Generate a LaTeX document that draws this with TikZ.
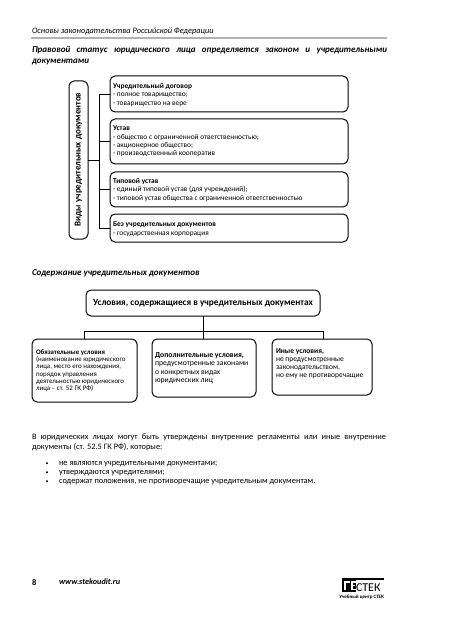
\documentclass[tikz,border=0pt]{standalone}
\usepackage{fontspec}
\setmainfont{Carlito}
\begin{document}
\begin{tikzpicture}[x=1pt,y=-1pt,
  every node/.style={inner sep=0pt,outer sep=0pt,font=\fontsize{8.35}{9}\selectfont},
  infobox/.style={draw=black,line width=1pt,rounded corners=5pt,fill=white},
  lnk/.style={draw=black,line width=0.9pt},
  txt/.style={anchor=base west},
  boxtxt/.style={anchor=north west,align=left,font=\fontsize{7.4}{8.4}\selectfont},
  headtxt/.style={anchor=base west,font=\fontsize{9}{10}\selectfont\bfseries\itshape},
]
\useasboundingbox (0,0) rectangle (450,620);
\fill[white] (0,0) rectangle (450,620);
% header
\node[txt,font=\fontsize{8.3}{9}\selectfont\itshape] (hd) at (32,33.5) {Основы законодательства Российской Федерации};
\draw[line width=1.2pt,black!30] (31,38) -- (387,38);
\node[headtxt] (t1) at (32,53) {\makebox[355pt][s]{Правовой статус юридического лица определяется законом и учредительными}};
\node[headtxt] (t2) at (32,64) {документами};
% first diagram
\node[infobox,anchor=north west,minimum width=19pt,minimum height=158pt] (lb) at (69,81) {};
\node[rotate=90,font=\fontsize{9}{10}\selectfont\bfseries] (vd) at (78.5,159.5) {Виды учредительных документов};
\node[infobox,anchor=north west,minimum width=238pt,minimum height=36pt] (b1) at (110,76) {};
\node[infobox,anchor=north west,minimum width=238pt,minimum height=45pt] (b2) at (110,119) {};
\node[infobox,anchor=north west,minimum width=238pt,minimum height=35pt] (b3) at (110,172) {};
\node[infobox,anchor=north west,minimum width=238pt,minimum height=28pt] (b4) at (110,214) {};
\coordinate (sp) at (99,160);
\draw[lnk] (lb.east) -- (sp);
\draw[lnk] (b1.west) -- (sp |- b1.west) -- (sp |- b4.west) -- (b4.west);
\draw[lnk] (sp |- b2.west) -- (b2.west);
\draw[lnk] (sp |- b3.west) -- (b3.west);
\node[boxtxt] (n1) at (113,83.5) {\textbf{Учредительный договор}\\- полное товарищество;\\- товарищество на вере};
\node[boxtxt] (n2) at (113,126) {\textbf{Устав}\\- общество с ограниченной ответственностью;\\- акционерное общество;\\- производственный кооператив};
\node[boxtxt] (n3) at (113,178.5) {\textbf{Типовой устав}\\- единый типовой устав (для учреждений);\\- типовой устав общества с ограниченной ответственностью};
\node[boxtxt] (n4) at (113,222) {\textbf{Без учредительных документов}\\- государственная корпорация};
% second heading
\node[headtxt] (h2) at (32,275) {Содержание учредительных документов};
% second diagram
\node[infobox,minimum width=234pt,minimum height=26pt,font=\fontsize{9.3}{10}\selectfont\bfseries] (top) at (203,303) {Условия, содержащиеся в учредительных документах};
\node[infobox,anchor=north west,minimum width=105pt,minimum height=63pt] (A) at (32,339) {};
\node[infobox,anchor=north west,minimum width=104pt,minimum height=58pt] (B) at (152,339) {};
\node[infobox,anchor=north west,minimum width=100pt,minimum height=56pt] (C) at (272,339) {};
\coordinate (bus) at (203,331);
\draw[lnk] (top.south) -- (bus);
\draw[lnk] (A.north -| 84,0) -- (84,331) -- (323,331) -- (C.north -| 323,0);
\draw[lnk] (bus) -- (B.north -| bus);
\node[boxtxt,font=\fontsize{6.9}{7.3}\selectfont] (a) at (36,349.5) {\textbf{Обязательные условия}\\(наименование юридического\\лица, место его нахождения,\\порядок управления\\деятельностью юридического\\лица – ст. 52 ГК РФ)};
\node[boxtxt,font=\fontsize{7.7}{8.3}\selectfont] (b) at (155,352.5) {\textbf{Дополнительные условия,}\\предусмотренные законами\\о конкретных видах\\юридических лиц};
\node[boxtxt,font=\fontsize{7.5}{8.2}\selectfont] (c) at (276,348.5) {\textbf{Иные условия,}\\не предусмотренные\\законодательством,\\но ему не противоречащие};
% paragraph
\node[txt] (p1) at (32,439.5) {\makebox[354pt][s]{В юридических лицах могут быть утверждены внутренние регламенты или иные внутренние}};
\node[txt] (p2) at (32,449) {документы (ст. 52.5 ГК РФ), которые:};
\foreach \yy/\tt in {465.5/{не являются учредительными документами;},474.5/{утверждаются учредителями;},483.5/{содержат положения, не противоречащие учредительным документам.}}{
  \fill (47,\yy-2.2) circle (1.1pt);
  \node[txt] at (59,\yy) {\tt};
}
% footer
\node[txt,font=\fontsize{8.5}{10}\selectfont\bfseries] (pg) at (32,585) {8};
\node[txt,font=\fontsize{8.2}{10}\selectfont\bfseries\itshape] (www) at (59,584.5) {www.stekoudit.ru};
% logo
\fill (342,578) rectangle (384,579.5);
\fill (342,578) rectangle (356,592);
\fill[white] (344,581) rectangle (350,582.5);
\fill[white] (344,581) rectangle (345.5,590);
\fill[white] (351,581) rectangle (356,582.5);
\fill[white] (351,581) rectangle (352.5,590);
\fill[white] (351,585) rectangle (355,586.3);
\fill[white] (351,588.5) rectangle (356,590);
\node[anchor=base west,font=\fontsize{12}{12}\selectfont] (lg) at (356,591.5) {СТЕК};
\node[anchor=base east,font=\fontsize{5}{5}\selectfont\bfseries] (ls) at (384,598) {Учебный центр СТЕК};
\end{tikzpicture}
\end{document}
